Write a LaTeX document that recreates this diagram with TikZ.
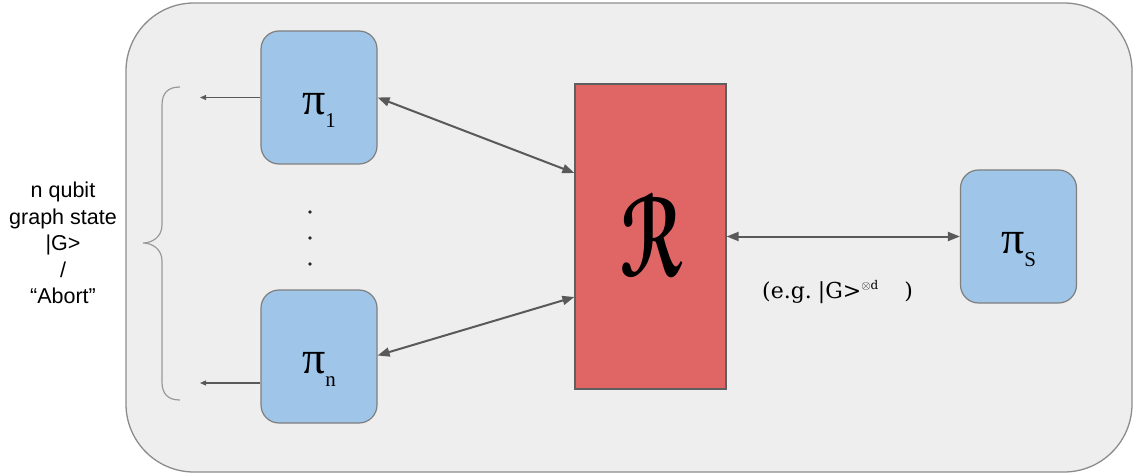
\documentclass[tikz,border=0pt]{standalone}
\usepackage{fontspec}
\usepackage{graphicx}
\usepackage{eucal}
\setmainfont{DejaVu Serif}
\newfontfamily\sansf{Liberation Sans}
\newfontfamily\pif{Liberation Serif}
\usetikzlibrary{arrows.meta}
\definecolor{bgfill}{HTML}{EEEEEE}
\definecolor{bgline}{HTML}{8C8C8C}
\definecolor{bluefill}{HTML}{9FC5E8}
\definecolor{boxline}{HTML}{7F7F7F}
\definecolor{redfill}{HTML}{E06666}
\definecolor{redline}{HTML}{5F5F5F}
\definecolor{arrowc}{HTML}{595959}
\definecolor{bracec}{HTML}{999999}
\newcommand\pilabel[1]{{\pif\fontsize{46}{46}\selectfont π}\raisebox{-13pt}{\pif\fontsize{21}{21}\selectfont #1}}
\tikzset{
  party/.style={draw=boxline, line width=1.2pt, fill=bluefill, rounded corners=18pt,
    minimum width=116pt, minimum height=133pt, inner sep=0pt, text height=34pt, text depth=0pt},
  bigarrow/.style={draw=arrowc, line width=2pt, {Triangle[length=12pt,width=9pt]}-{Triangle[length=12pt,width=9pt]}},
  smallarrow/.style={draw=arrowc, line width=1.1pt, -{Triangle[length=6pt,width=5pt]}},
}
\begin{document}
\begin{tikzpicture}[x=1pt,y=-1pt]
\useasboundingbox (0,0) rectangle (1133,476);
% outer container
\draw[draw=bgline, line width=1.3pt, fill=bgfill, rounded corners=68pt] (126,3) rectangle (1132,472);
% nodes
\node[party] (p1) at (319,97.5) {\pilabel{1}};
\node[party] (pn) at (319,356.5) {\pilabel{n}};
\node[party] (ps) at (1018.5,236.5) {\pilabel{S}};
\node[draw=redline, line width=1.2pt, fill=redfill, minimum width=151pt, minimum height=305pt, inner sep=0pt]
  (R) at (650.5,236.5) {\raisebox{-16pt}{\scalebox{7.4}[11.4]{\boldmath$\mathcal{R}$}}};
% connectors
\draw[bigarrow] (p1.east) -- ([yshift=63.5pt]R.west);
\draw[bigarrow] ([yshift=1pt]pn.east) -- ([yshift=-60.5pt]R.west);
\draw[bigarrow] (R.east) -- (ps.west);
\coordinate (o1) at (200,97.5);
\coordinate (on) at (200,383);
\draw[smallarrow] (p1.west) -- (o1);
\draw[smallarrow] ([yshift=-26.5pt]pn.west) -- (on);
% brace
\draw[draw=bracec, line width=1.2pt] (180,87) .. controls (168,87) and (162,93) .. (162,105) -- (162,225)
  .. controls (162,237) and (152,243) .. (143,243) .. controls (152,243) and (162,249) .. (162,261)
  -- (162,382) .. controls (162,394) and (168,400) .. (180,400);
% dots
\foreach \yy in {212,238,264} \fill[black!85] (310,\yy) circle (1.8pt);
% left text
\node[align=center, font=\sansf\fontsize{21.5}{26.5}\selectfont, inner sep=0pt] (lt) at (63,243)
  {n qubit\\graph state\\|G>\\/\\“Abort”};
% example label
\node[font=\fontsize{22}{22}\selectfont, inner sep=0pt, anchor=base west] (eg) at (762,298)
  {(e.g.\hspace{6pt}|G>\raisebox{9pt}{\fontsize{12}{12}\selectfont$\otimes$d}\hspace{26pt})};
\end{tikzpicture}
\end{document}
